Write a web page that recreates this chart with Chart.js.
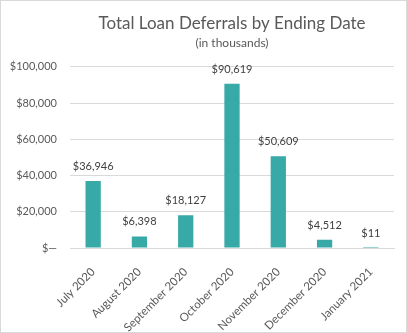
<!DOCTYPE html>
<html>
<head>
<meta charset="utf-8">
<script src="https://cdn.jsdelivr.net/npm/chart.js@4"></script>
<style>
    html, body { margin: 0; padding: 0; background: #fff; }
    #wrap { width: 407px; height: 333px; box-sizing: border-box; border: 1px solid #d9d9d9; }
</style>
</head>
<body>
<div id="wrap"><canvas id="deferralsChart" width="405" height="331"></canvas></div>
<script>
/* Total loan deferrals by ending date - bar chart */

const months = ['July 2020', 'August 2020', 'September 2020', 'October 2020', 'November 2020', 'December 2020', 'January 2021'];
const deferrals = [36946, 6398, 18127, 90619, 50609, 4512, 11];
const yTicks = [0, 20000, 40000, 60000, 80000, 100000];

const textColor = '#595959';
const fontFamily = 'Lato, "Open Sans", sans-serif';

function money(v) {
    if (v === 0) return '$\u2014';
    return '$' + v.toLocaleString('en-US');
}

// Draws the value above each bar
const valueLabels = {
    id: 'valueLabels',
    afterDatasetsDraw(chart) {
        const ctx = chart.ctx;
        const meta = chart.getDatasetMeta(0);
        ctx.save();
        ctx.font = '11px ' + fontFamily;
        ctx.fillStyle = '#404040';
        ctx.textAlign = 'center';
        ctx.textBaseline = 'bottom';
        meta.data.forEach((bar, i) => {
            ctx.fillText(money(deferrals[i]), bar.x, bar.y - 9);
        });
        ctx.restore();
    }
};

new Chart(document.getElementById('deferralsChart'), {
    type: 'bar',
    data: {
        labels: months,
        datasets: [{
            data: deferrals,
            backgroundColor: '#37a9a7',
            barPercentage: 0.33,
            categoryPercentage: 1
        }]
    },
    options: {
        responsive: false,
        animation: false,
        layout: { padding: { left: 0, right: 12, top: 4, bottom: 0 } },
        plugins: {
            legend: { display: false },
            tooltip: { enabled: false },
            title: {
                display: true,
                text: 'Total Loan Deferrals by Ending Date',
                fullSize: false,
                color: textColor,
                font: { family: fontFamily, size: 17, weight: 'normal' },
                padding: { top: 8, bottom: 0 }
            },
            subtitle: {
                display: true,
                text: '(in thousands)',
                fullSize: false,
                color: textColor,
                font: { family: fontFamily, size: 12, weight: 'normal' },
                padding: { top: 3, bottom: 16 }
            }
        },
        scales: {
            x: {
                grid: { display: false },
                border: { color: '#d9d9d9' },
                afterFit: axis => { axis.height = 84; },
                ticks: {
                    color: textColor,
                    font: { family: fontFamily, size: 11.5 },
                    minRotation: 45,
                    maxRotation: 45,
                    padding: 9
                }
            },
            y: {
                min: 0,
                max: 100000,
                afterBuildTicks: axis => { axis.ticks = yTicks.map(v => ({ value: v })); },
                afterFit: axis => { axis.width = 69; },
                grid: { color: '#d9d9d9', drawTicks: false },
                border: { display: false },
                ticks: {
                    color: textColor,
                    font: { family: fontFamily, size: 11 },
                    padding: 13,
                    callback: v => money(v)
                }
            }
        }
    },
    plugins: [valueLabels]
});
</script>
</body>
</html>
